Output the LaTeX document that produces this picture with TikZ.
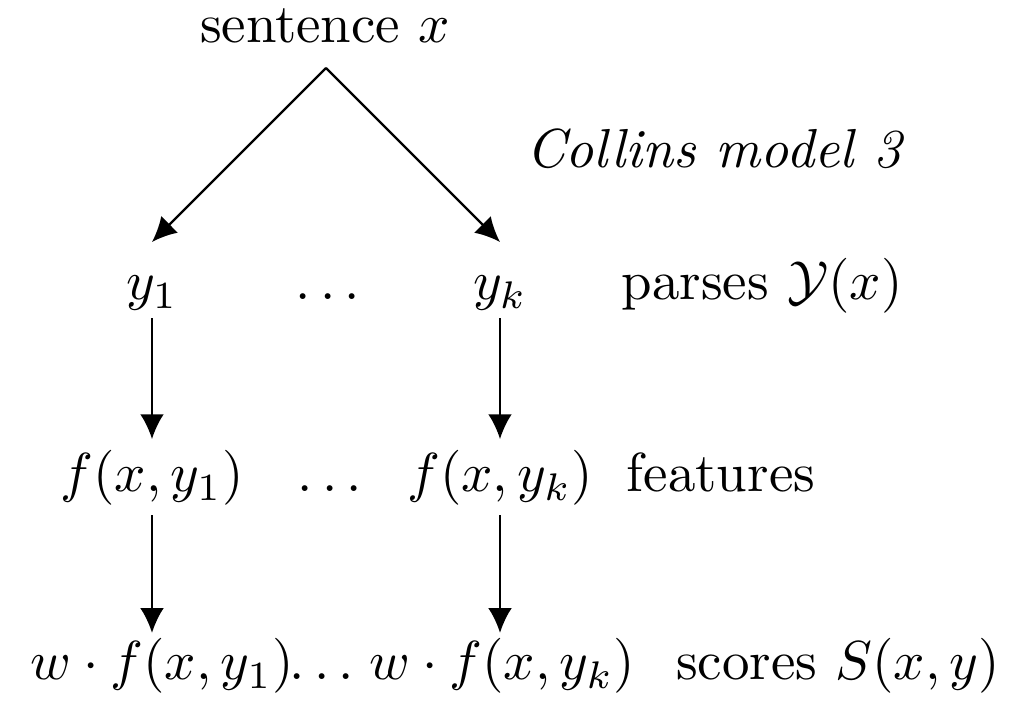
\documentclass[tikz,border=0pt]{standalone}
\usetikzlibrary{arrows.meta}
\begin{document}
\begin{tikzpicture}[x=0.182pt,y=-0.182pt,
  lbl/.style={inner sep=0pt,outer sep=0pt,anchor=base},
  rowy/.style={lbl,text height=10.56pt,text depth=3.28pt},
  rowf/.style={lbl,text height=9.63pt,text depth=4.2pt},
  roww/.style={lbl,text height=7.5pt,text depth=2.5pt},
  arr/.style={-{Latex[length=4.5pt,width=4.3pt]},line width=0.4pt}]
\useasboundingbox (0,0) rectangle (1010,703);
\node[lbl] (s) at (325,43) {sentence $x$};
\coordinate (apex) at (326,68);
\node[lbl] (collins) at (715,168) {\textit{Collins model 3}};
\node[rowy] (y1) at (152,300) {$y_1$};
\node[lbl] (yd) at (328,300) {$\ldots$};
\node[rowy] (yk) at (500,300) {$y_k$};
\node[lbl] (parses) at (762,300) {parses $\mathcal{Y}(x)$};
\node[rowf] (f1) at (152,492) {$f(x,y_1)$};
\node[lbl] (fd) at (330,492) {$\ldots$};
\node[rowf] (fk) at (500,492) {$f(x,y_k)$};
\node[lbl] (feat) at (721,492) {features};
\node[roww] (w1) at (162,680) {$w\cdot f(x,y_1)$};
\node[lbl] (wd) at (322,680) {$\ldots$};
\node[roww] (wk) at (502,680) {$w\cdot f(x,y_k)$};
\node[lbl] (scores) at (838,680) {scores $S(x,y)$};
\draw[arr] (apex) -- (y1.north);
\draw[arr] (apex) -- (yk.north);
\draw[arr] (y1.south) -- (f1.north);
\draw[arr] (yk.south) -- (fk.north);
\draw[arr] (f1.south) -- ([yshift=1.07pt]f1.south |- w1.north);
\draw[arr] (fk.south) -- ([yshift=1.07pt]fk.south |- wk.north);
\end{tikzpicture}
\end{document}
